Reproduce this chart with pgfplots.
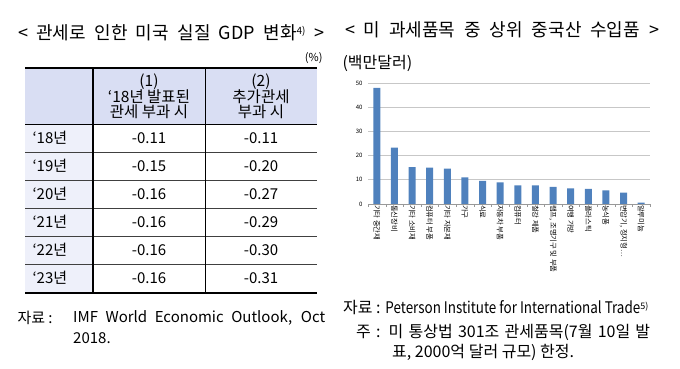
\documentclass[border=0pt]{standalone}
\usepackage{fontspec}
\setmainfont{Noto Sans CJK KR}
\usepackage{graphicx}
\usepackage{pgfplots}
\pgfplotsset{compat=1.18}
\definecolor{barblue}{HTML}{4F81BD}
\definecolor{hdr}{HTML}{D9DEF3}
\definecolor{colone}{HTML}{EEF0FA}
\pgfplotstableread{
x val
0 48.0
1 23.3
2 15.2
3 15.0
4 14.6
5 11.0
6 9.6
7 8.9
8 7.7
9 7.7
10 7.1
11 6.5
12 6.2
13 5.6
14 4.7
15 0.6
}\imports
\begin{document}
\begin{tikzpicture}
\begin{scope}[x=1pt,y=1pt]
\path[use as bounding box] (0,0) rectangle (680,369);
% left title
\node[font=\fontsize{18}{20}\selectfont] at (171,336) {\makebox[306pt][s]{< 관세로 인한 미국 실질 GDP 변화\raisebox{0.5ex}{\fontsize{10}{11}\selectfont 4)} >}};
\node[anchor=east,font=\fontsize{11}{13}\selectfont] at (326,311) {(\%)};
% table
\fill[hdr] (25,245) rectangle (317,301);
\fill[colone] (25,76) rectangle (93,245);
\foreach \yy in {217,189,161,133,105}{\draw[line width=0.6pt,black!75] (25,\yy)--(317,\yy);}
\draw[line width=0.9pt] (25,245)--(317,245);
\draw[line width=1.8pt] (25,301)--(317,301);
\draw[line width=1.8pt] (25,76)--(317,76);
\draw[line width=1.4pt] (93,76)--(93,301);
\draw[line width=0.6pt] (205,76)--(205,301);
\begin{scope}[font=\fontsize{15.5}{16}\selectfont]
\node at (149,287) {(1)};
\node at (149,272) {‘18년 발표된};
\node at (149,257) {관세 부과 시};
\node at (261,287) {(2)};
\node at (261,272) {추가관세};
\node at (261,257) {부과 시};
\end{scope}
\begin{scope}[font=\fontsize{15}{16}\selectfont]
\foreach \yr/\a/\b [count=\i from 0] in {18/-0.11/-0.11,19/-0.15/-0.20,20/-0.16/-0.27,21/-0.16/-0.29,22/-0.16/-0.30,23/-0.16/-0.31}{
  \pgfmathsetmacro{\yc}{231-28*\i}
  \node[anchor=west] at (29,\yc) {‘\yr{}년};
  \node at (149,\yc) {\a};
  \node at (261,\yc) {\b};
}
\node[anchor=west] at (14,51) {자료 :};
\node[anchor=west,inner xsep=0pt] at (73,51) {\makebox[252pt][s]{IMF World Economic Outlook, Oct}};
\node[anchor=west,inner xsep=0pt] at (73,31) {2018.};
\end{scope}
% right title
\node[font=\fontsize{18}{20}\selectfont] at (502,339) {\makebox[314pt][s]{< 미 과세품목 중 상위 중국산 수입품 >}};
\node[anchor=west,font=\fontsize{16}{18}\selectfont] at (339,306) {(백만달러)};
\begin{scope}[font=\fontsize{16}{18}\selectfont]
\node[anchor=west,inner xsep=0pt] at (343,61) {자료 : \scalebox{0.84}[1]{Peterson Institute for International Trade}\raisebox{0.5ex}{\fontsize{9}{10}\selectfont 5)}};
\node[anchor=west,inner xsep=0pt] at (356,37) {\makebox[294pt][s]{주 : 미 통상법 301조 관세품목(7월 10일 발}};
\node[anchor=west,inner xsep=0pt] at (392,17) {표, 2000억 달러 규모) 한정.};
\end{scope}
\end{scope}
\begin{axis}[
  at={(368pt,165pt)}, anchor=south west,
  scale only axis, width=282pt, height=121pt,
  xmin=-0.5, xmax=15.5, ymin=0, ymax=50,
  ytick={0,10,...,50},
  ymajorgrids, grid style={draw=black!22, line width=0.7pt},
  axis x line*=bottom, axis y line*=left,
  x axis line style={draw=black!40, line width=0.7pt},
  y axis line style={draw=none},
  xtick=data, major tick length=0pt,
  minor xtick={-0.5,0.5,...,15.5}, minor tick length=3pt,
  tick align=outside, minor tick style={draw=black!40},
  xticklabels={기타 중간재,통신장비,기타 소비재,컴퓨터 부품,기타 자본재,가구,식료,자동차 부품,컴퓨터,철강 제품,{램프, 조명기구 및 부품},여행 가방,플라스틱,농식품,{변압기, 정지형…},알루미늄},
  x tick label style={rotate=-90, anchor=west, font=\fontsize{7.3}{8}\selectfont, inner sep=1pt},
  /pgf/number format/assume math mode=true,
  yticklabel style={font=\fontsize{6}{7}\selectfont, xshift=-2pt},
  ytick style={draw=none},
  clip=false,
]
\addplot[ybar, bar width=7pt, fill=barblue, draw=none] table[x=x,y=val]{\imports};
\end{axis}
\end{tikzpicture}
\end{document}
